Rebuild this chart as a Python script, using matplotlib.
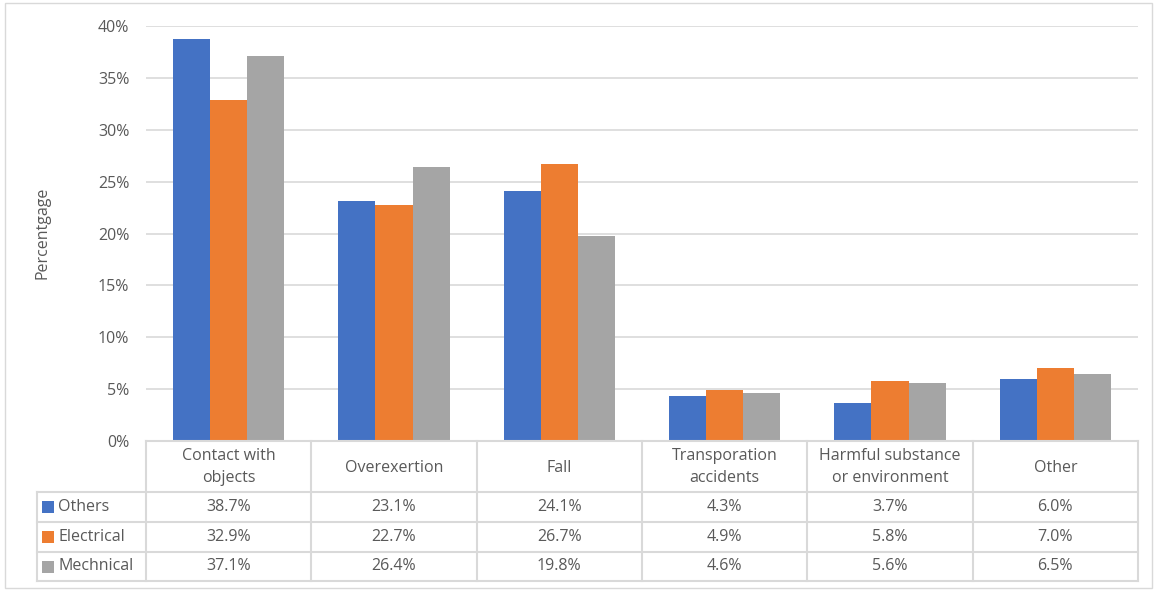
import matplotlib
matplotlib.use("Agg")
import matplotlib.pyplot as plt
from matplotlib.patches import Rectangle
from matplotlib.lines import Line2D
import numpy as np

categories = ["Contact with\nobjects", "Overexertion", "Fall", "Transporation\naccidents",
              "Harmful substance\nor environment", "Other"]
series_names = ["Others", "Electrical", "Mechnical"]
others = [38.7, 23.1, 24.1, 4.3, 3.7, 6.0]
electrical = [32.9, 22.7, 26.7, 4.9, 5.8, 7.0]
mechnical = [37.1, 26.4, 19.8, 4.6, 5.6, 6.5]
yticks = [0, 5, 10, 15, 20, 25, 30, 35, 40]
colors = ["#4472C4", "#ED7D31", "#A5A5A5"]

W, H = 1159, 592
plt.rcParams['font.family'] = ['Open Sans', 'DejaVu Sans']
txt = "#595959"
grid = "#D9D9D9"
fs = 11.5

fig = plt.figure(figsize=(W/100, H/100), dpi=100)
def fx(px): return px / W
def fy(py): return 1 - py / H

L, R, T, B = 146, 1138, 26, 441
ax = fig.add_axes([fx(L), fy(B), fx(R) - fx(L), fy(T) - fy(B)])
series = [others, electrical, mechnical]
x = np.arange(len(categories))
bw = 0.224
for i, (vals, c) in enumerate(zip(series, colors)):
    ax.bar(x + (i - 1) * bw, vals, width=bw, color=c, zorder=3)
ax.set_xlim(-0.5, len(categories) - 0.5)
ax.set_ylim(0, 40)
ax.set_yticks(yticks)
ax.set_yticklabels([f"{v}%" for v in yticks], color=txt, fontsize=fs)
ax.tick_params(axis='y', length=0, pad=12)
ax.set_xticks([])
ax.grid(axis='y', color=grid, linewidth=1.2, zorder=0)
for s in ax.spines.values():
    s.set_visible(False)

fig.text(fx(42), fy(233), "Percentgage", rotation=90, ha='center', va='center', color=txt, fontsize=fs)

# outer border
fig.add_artist(Rectangle((fx(5), fy(588)), fx(1152) - fx(5), fy(3) - fy(588), transform=fig.transFigure,
                         fill=False, edgecolor=grid, linewidth=1))

# data table
rows_y = [441, 492, 522, 552, 581]
catw = (R - L) / len(categories)
def hline(x0, x1, y):
    fig.add_artist(Line2D([fx(x0), fx(x1)], [fy(y), fy(y)], transform=fig.transFigure, color=grid, linewidth=1.5))
def vline(xp, y0, y1):
    fig.add_artist(Line2D([fx(xp), fx(xp)], [fy(y0), fy(y1)], transform=fig.transFigure, color=grid, linewidth=1.5))

hline(L, R, 441)
for y in rows_y[1:]:
    hline(37, R, y)
for k in range(len(categories) + 1):
    vline(L + k * catw, 441, 581)
vline(37, 492, 581)

for k, cat in enumerate(categories):
    cx = L + (k + 0.5) * catw
    fig.text(fx(cx), fy((441 + 492) / 2 + 1), cat, ha='center', va='center', color=txt, fontsize=fs,
             linespacing=1.5)
    for r, vals in enumerate(series):
        cy = (rows_y[r + 1] + rows_y[r + 2]) / 2
        fig.text(fx(cx), fy(cy), f"{vals[k]:.1f}%", ha='center', va='center', color=txt, fontsize=fs)

for r, (name, c) in enumerate(zip(series_names, colors)):
    cy = (rows_y[r + 1] + rows_y[r + 2]) / 2
    fig.add_artist(Rectangle((fx(42), fy(cy + 6)), fx(12), fy(cy - 6) - fy(cy + 6), transform=fig.transFigure,
                             facecolor=c, edgecolor='none'))
    fig.text(fx(58), fy(cy), name, ha='left', va='center', color=txt, fontsize=fs)

fig.savefig("out.png", dpi=100, facecolor="white")
